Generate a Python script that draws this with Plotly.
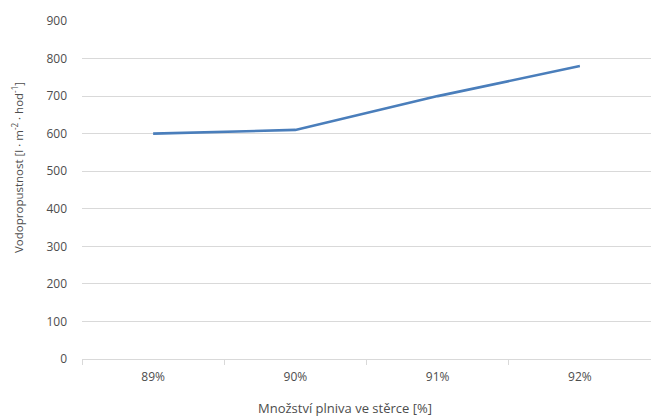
import plotly.graph_objects as go

# Filler share in the screed vs. water permeability
categories = ["89%", "90%", "91%", "92%"]
permeability = [600, 610, 700, 780]
y_ticks = [0, 100, 200, 300, 400, 500, 600, 700, 800, 900]

W, H = 651, 418
L, R, T, B = 82, 0, 21, 59
grid = "#d9d9d9"
txt = "#4d4d4d"
font = "Open Sans"

fig = go.Figure(
    go.Scatter(
        x=categories,
        y=permeability,
        mode="lines",
        line=dict(color="#4a7ebb", width=2.6),
        hoverinfo="x+y",
    )
)

fig.update_layout(
    width=W,
    height=H,
    margin=dict(l=L, r=R, t=T, b=B),
    paper_bgcolor="white",
    plot_bgcolor="white",
    showlegend=False,
    font=dict(family=font, size=12, color=txt),
)

fig.update_xaxes(
    type="category",
    range=[-0.5, 3.5],
    showgrid=False,
    showline=True,
    linecolor=grid,
    linewidth=1,
    ticks="outside",
    tickson="boundaries",
    ticklen=5,
    tickcolor=grid,
    ticklabelstandoff=7,
    tickfont=dict(family=font, size=12, color=txt),
)

fig.update_yaxes(
    range=[0, 900],
    tickvals=y_ticks,
    showgrid=True,
    gridcolor=grid,
    gridwidth=1,
    zeroline=False,
    showline=False,
    ticks="",
    ticklabelstandoff=14,
    tickfont=dict(family=font, size=12, color=txt),
)

# axis titles
fig.add_annotation(
    text="Množství plniva ve stěrce [%]",
    xref="paper", yref="paper",
    x=(345 - L) / (W - L - R), y=-(408 - (H - B)) / (H - T - B),
    xanchor="center", yanchor="middle",
    showarrow=False,
    font=dict(family=font, size=13, color=txt),
)
fig.add_annotation(
    text="Vodopropustnost [l · m<sup>-2</sup> · hod<sup>-1</sup>]",
    xref="paper", yref="paper",
    x=-(L - 17) / (W - L - R), y=(H - B - 168) / (H - T - B),
    xanchor="center", yanchor="middle",
    textangle=-90,
    showarrow=False,
    font=dict(family=font, size=11.5, color=txt),
)

fig.write_html("out.html")
